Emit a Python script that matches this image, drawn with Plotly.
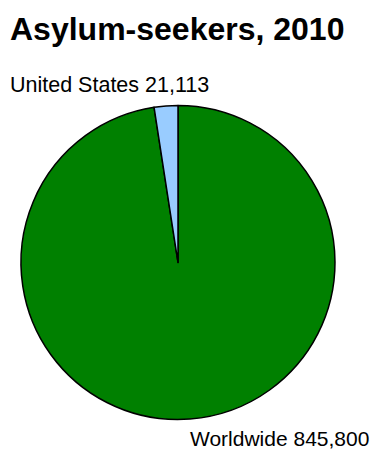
import plotly.graph_objects as go

title_text = "Asylum-seekers, 2010"
categories = ["United States", "Worldwide"]
values = [21113, 845800]
colors = ["#99CCFF", "#008000"]

W, H = 372, 449

fig = go.Figure()
# Drawn clockwise from 12 o'clock with Worldwide first so the small
# United States slice sits just left of 12 o'clock, as in the reference.
fig.add_trace(go.Pie(
    labels=categories[::-1],
    values=values[::-1],
    sort=False,
    direction="clockwise",
    rotation=0,
    textinfo="none",
    hoverinfo="label+value",
    marker=dict(colors=colors[::-1], line=dict(color="black", width=1.5)),
    domain=dict(x=[21 / W, 335 / W], y=[1 - 420 / H, 1 - 105 / H]),
    showlegend=False,
))

fig.add_annotation(
    text=f"<b>{title_text}</b>", xref="paper", yref="paper",
    x=8 / W, y=1 - 29 / H, xanchor="left", yanchor="middle", showarrow=False,
    font=dict(family="Liberation Sans, Arial", size=32, color="black"),
)
fig.add_annotation(
    text=f"{categories[0]} {values[0]:,}", xref="paper", yref="paper",
    x=8 / W, y=1 - 85 / H, xanchor="left", yanchor="middle", showarrow=False,
    font=dict(family="Liberation Sans, Arial", size=21.5, color="black"),
)
fig.add_annotation(
    text=f"{categories[1]} {values[1]:,}", xref="paper", yref="paper",
    x=371 / W, y=1 - 438 / H, xanchor="right", yanchor="middle", showarrow=False,
    font=dict(family="Liberation Sans, Arial", size=21, color="black"),
)

fig.update_layout(
    width=W, height=H,
    margin=dict(l=0, r=0, t=0, b=0),
    paper_bgcolor="white", plot_bgcolor="white",
)

fig.write_html("out.html")
